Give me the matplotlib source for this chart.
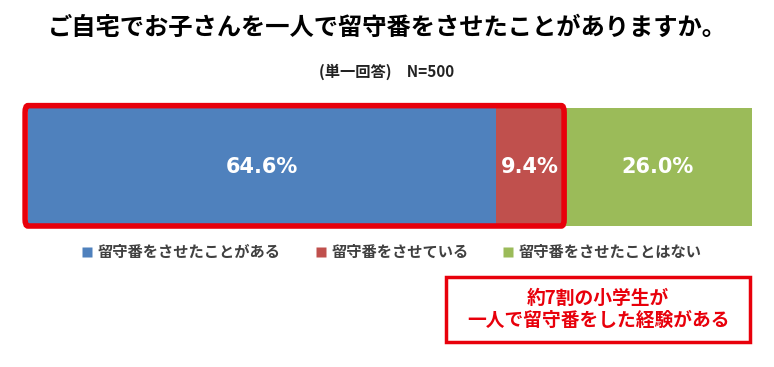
import matplotlib
matplotlib.use("Agg")
import matplotlib.pyplot as plt
from matplotlib.patches import Rectangle, FancyBboxPatch
from matplotlib.lines import Line2D

plt.rcParams['font.family'] = ['Noto Sans CJK JP', 'DejaVu Sans']

title = "ご自宅でお子さんを一人で留守番をさせたことがありますか。"
subtitle = "(単一回答)　N=500"
categories = ["留守番をさせたことがある", "留守番をさせている", "留守番をさせたことはない"]
values = [64.6, 9.4, 26.0]
colors = ["#4F81BD", "#C0504D", "#9BBB59"]
note = "約7割の小学生が\n一人で留守番をした経験がある"

fig = plt.figure(figsize=(7.74, 3.67), dpi=100)
ax = fig.add_axes([28/774, 1-226/367, (752-28)/774, (226-108)/367])

left = 0
for v, c in zip(values, colors):
    ax.barh(0, v, left=left, height=1.0, color=c, edgecolor='none')
    ax.text(left + v/2, 0, f"{v:.1f}%", ha='center', va='center',
            color='white', fontsize=15, fontweight='bold',
            family=['DejaVu Sans'])
    left += v
ax.set_xlim(0, 100)
ax.set_ylim(-0.5, 0.5)
ax.axis('off')

# red highlight box around first two segments
hl = sum(values[:2])
rect = FancyBboxPatch((-0.4, -0.5), hl + 0.45, 1.02,
                      boxstyle="round,pad=0,rounding_size=0.4",
                      fill=False, edgecolor='#E8000B', linewidth=4,
                      clip_on=False, transform=ax.transData,
                      mutation_aspect=1/7)
ax.add_patch(rect)

fig.text(0.5, 1-28/367, title, ha='center', va='center', fontsize=17.5,
         fontweight='bold', color='black')
fig.text(0.5, 1-72/367, subtitle, ha='center', va='center', fontsize=11,
         fontweight='bold', color='#222222')

handles = [Line2D([0], [0], marker='s', linestyle='none', markersize=7,
                  markerfacecolor=c, markeredgecolor='none') for c in colors]
fig.legend(handles, categories, loc='center', bbox_to_anchor=(0.5, 1-252/367),
           ncol=3, frameon=False, handletextpad=-0.3, columnspacing=1.6,
           prop={'size': 11, 'weight': 'bold'}, labelcolor='#404040')

# annotation box
box = Rectangle((446/774, 1-342/367), (750-446)/774, (342-277)/367,
                transform=fig.transFigure, fill=False, edgecolor='#E8000B',
                linewidth=2.5)
fig.patches.append(box)
fig.text(598/774, 1-309.5/367, note, ha='center', va='center', fontsize=13.5,
         fontweight='bold', color='#E8000B', linespacing=1.25)

fig.savefig("out.png", dpi=100)
